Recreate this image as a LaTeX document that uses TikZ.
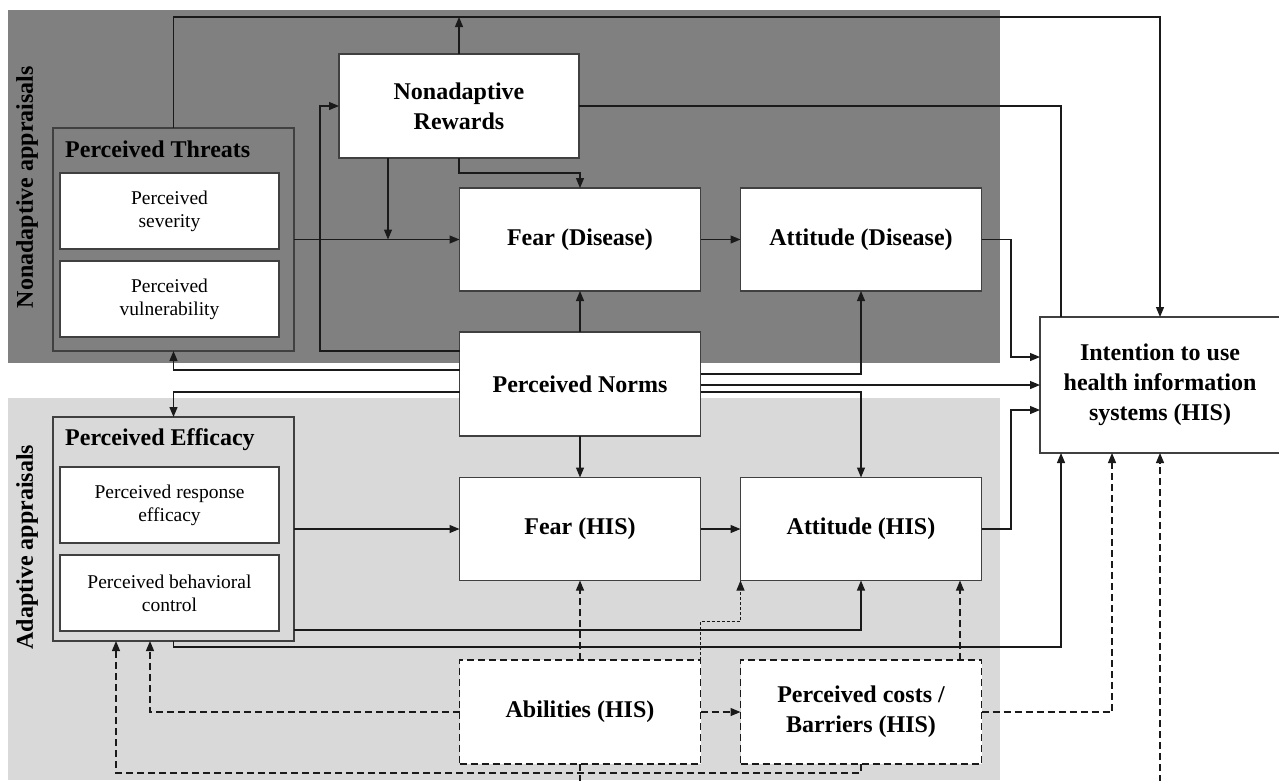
\documentclass[tikz,border=0pt]{standalone}
\usepackage{fontspec}
\setmainfont{Liberation Serif}
\usetikzlibrary{arrows.meta}
\definecolor{darkbg}{HTML}{808080}
\definecolor{lightbg}{HTML}{D9D9D9}
\definecolor{edgec}{HTML}{404040}
\definecolor{linec}{HTML}{1A1A1A}
\begin{document}
\begin{tikzpicture}[x=1pt,y=-1pt,
  box/.style={draw=edgec, line width=1.2pt, fill=white, inner sep=0pt, outer sep=0pt,
    align=center, font=\fontsize{24}{30}\selectfont\bfseries},
  dbox/.style={box, draw=linec, dash pattern=on 7pt off 4pt},
  subbox/.style={box, font=\fontsize{19.5}{23}\selectfont, minimum width=219pt, minimum height=76pt},
  grp/.style={draw=edgec, line width=1.2pt, inner sep=0pt, outer sep=0pt, minimum width=241pt},
  ttl/.style={anchor=west, inner sep=0pt, font=\fontsize{24}{30}\selectfont\bfseries},
  side/.style={rotate=90, inner sep=0pt, font=\fontsize{24}{30}\selectfont\bfseries},
  conn/.style={line width=1.2pt, draw=linec},
  arr/.style={conn, -{Triangle[length=10pt,width=8pt]}},
  dline/.style={conn, dash pattern=on 7pt off 4pt},
  darr/.style={arr, dash pattern=on 7pt off 4pt},
  farr/.style={arr, line width=0.9pt, dash pattern=on 3pt off 2pt}]
\useasboundingbox (0,0) rectangle (1279,780);
% background regions
\fill[darkbg] (8,10) rectangle (1000,363);
\fill[lightbg] (8,398) rectangle (1000,780);
% side labels
\node[side] (lnon) at (27,187) {Nonadaptive appraisals};
\node[side] (lad) at (27,547) {Adaptive appraisals};
% group boxes
\node[grp, fill=darkbg, minimum height=223pt] (thr) at (173.5,239.5) {};
\node[ttl] (thrt) at (65,149) {Perceived Threats};
\node[subbox] (sev) at (169.5,211) {Perceived\\severity};
\node[subbox] (vul) at (169.5,299) {Perceived\\vulnerability};
\node[grp, fill=lightbg, minimum height=224pt] (eff) at (173.5,529) {};
\node[ttl] (efft) at (65,440) {Perceived Efficacy};
\node[subbox] (resp) at (169.5,505) {Perceived response\\efficacy};
\node[subbox] (beh) at (169.5,593) {Perceived behavioral\\control};
% main boxes
\node[box, minimum width=240pt, minimum height=104pt] (nr) at (459,106) {Nonadaptive\\Rewards};
\node[box, minimum width=241pt, minimum height=103pt] (fd) at (580,239.5) {Fear (Disease)};
\node[box, minimum width=241pt, minimum height=103pt] (ad) at (861,239.5) {Attitude (Disease)};
\node[box, minimum width=241pt, minimum height=104pt] (pn) at (580,384) {Perceived Norms};
\node[box, minimum width=241pt, minimum height=103pt] (fh) at (580,529) {Fear (HIS)};
\node[box, minimum width=241pt, minimum height=103pt] (ah) at (861,529) {Attitude (HIS)};
\node[dbox, minimum width=241pt, minimum height=104pt] (ab) at (580,712) {Abilities (HIS)};
\node[dbox, minimum width=241pt, minimum height=104pt] (co) at (861,712) {Perceived costs /\\Barriers (HIS)};
\node[box, minimum width=240pt, minimum height=136pt] (int) at (1160,385) {Intention to use\\health information\\systems (HIS)};
% free ends
\coordinate (topnr) at (459,17);
\coordinate (jn) at (388,239.5);
\coordinate (abot) at (580,782);
\coordinate (ibot) at (1160,782);
% solid connectors
\draw[arr] (thr.north) |- (1160,17) -- ([xshift=120pt]int.north west);
\draw[arr] (nr.north) -- (topnr);
\draw[conn] (nr.east) -| ([xshift=21pt]int.north west);
\draw[arr] (ad.east) -- (1011,239.5) |- ([yshift=28pt]int.west);
\draw[arr] ([yshift=10pt]pn.east) -| (ad.south);
\draw[arr] ([yshift=-1pt]pn.east) -- (int.west);
\draw[arr] ([yshift=-8pt]pn.east) -| (ah.north);
\draw[arr] ([yshift=33pt]pn.west) -| (320,106) -- (nr.west);
\draw[arr] ([yshift=14pt]pn.west) -| (thr.south);
\draw[arr] ([yshift=-8pt]pn.west) -| (eff.north);
\draw[arr] (pn.south) -- (fh.north);
\draw[arr] (pn.north) -- (fd.south);
\draw[arr] (thr.east) -- (fd.west);
\draw[arr] ([xshift=49pt]nr.south west) -- (jn);
\draw[arr] (nr.south) -- ++(0,15) -| (fd.north);
\draw[arr] (fd.east) -- (ad.west);
\draw[arr] (fh.east) -- (ah.west);
\draw[arr] (eff.east) -- (fh.west);
\draw[arr] ([yshift=-101pt]eff.east) -| (ah.south);
\draw[arr] (eff.south) -- ++(0,6) -| ([xshift=21pt]int.south west);
\draw[arr] (ah.east) -- (1011,529) |- ([yshift=-25pt]int.west);
% dashed connectors
\draw[darr] (ab.north) -- (fh.south);
\draw[farr] (ab.north east) -- ++(0,-39) -| (ah.south west);
\draw[darr] (ab.east) -- (co.west);
\draw[darr] (ab.west) -| ([xshift=97pt]eff.south west);
\draw[darr] (co.south) -- ++(0,9) -| ([xshift=63pt]eff.south west);
\draw[dline] (ab.south) -- (abot);
\draw[darr] (co.east) -| ([xshift=72pt]int.south west);
\draw[darr] ([xshift=219.5pt]co.north west) -- ([xshift=219.5pt]ah.south west);
\draw[darr] (ibot) -- ([xshift=120pt]int.south west);
\end{tikzpicture}
\end{document}
